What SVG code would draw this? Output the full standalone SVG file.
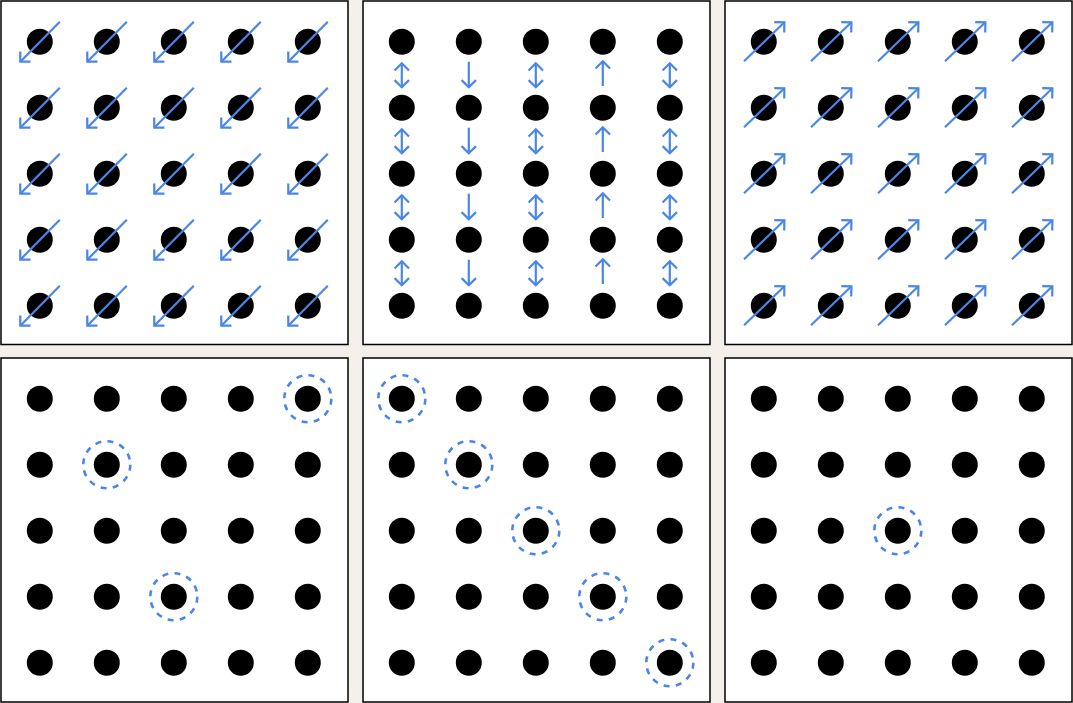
<svg xmlns="http://www.w3.org/2000/svg" width="1073" height="703" viewBox="0 0 1073 703">
<defs>
<marker id="ah" viewBox="-12 -12 24 24" markerWidth="24" markerHeight="24" refX="0" refY="0" markerUnits="userSpaceOnUse" orient="auto-start-reverse" overflow="visible">
<path d="M-7.2,-7.2 L0,0 L-7.2,7.2" fill="none" stroke="#4a86e8" stroke-width="2.2" stroke-linejoin="miter" stroke-linecap="butt"/>
</marker>
<g id="dots">
<circle cx="39.8" cy="41.7" r="13"/><circle cx="106.8" cy="41.7" r="13"/><circle cx="173.8" cy="41.7" r="13"/><circle cx="240.8" cy="41.7" r="13"/><circle cx="307.8" cy="41.7" r="13"/>
<circle cx="39.8" cy="107.7" r="13"/><circle cx="106.8" cy="107.7" r="13"/><circle cx="173.8" cy="107.7" r="13"/><circle cx="240.8" cy="107.7" r="13"/><circle cx="307.8" cy="107.7" r="13"/>
<circle cx="39.8" cy="173.7" r="13"/><circle cx="106.8" cy="173.7" r="13"/><circle cx="173.8" cy="173.7" r="13"/><circle cx="240.8" cy="173.7" r="13"/><circle cx="307.8" cy="173.7" r="13"/>
<circle cx="39.8" cy="239.7" r="13"/><circle cx="106.8" cy="239.7" r="13"/><circle cx="173.8" cy="239.7" r="13"/><circle cx="240.8" cy="239.7" r="13"/><circle cx="307.8" cy="239.7" r="13"/>
<circle cx="39.8" cy="305.7" r="13"/><circle cx="106.8" cy="305.7" r="13"/><circle cx="173.8" cy="305.7" r="13"/><circle cx="240.8" cy="305.7" r="13"/><circle cx="307.8" cy="305.7" r="13"/>
</g>
</defs>
<style>
.panel{fill:#ffffff;stroke:#000000;stroke-width:1.5}
.dot{fill:#000000}
.arr{stroke:#4a86e8;stroke-width:2.2;fill:none}
.end{marker-end:url(#ah)}
.both{marker-start:url(#ah);marker-end:url(#ah)}
.ring{fill:none;stroke:#4a86e8;stroke-width:2.6;stroke-dasharray:6 6.3}
</style>
<rect x="0" y="0" width="1073" height="703" fill="#f3f0eb"/>

<g id="panel-1" transform="translate(0,0)">
<rect class="panel" x="1" y="1" width="347" height="343.5"/>
<use href="#dots" class="dot"/>
</g>
<g id="panel-2" transform="translate(362,0)">
<rect class="panel" x="1" y="1" width="347" height="343.5"/>
<use href="#dots" class="dot"/>
</g>
<g id="panel-3" transform="translate(724,0)">
<rect class="panel" x="1" y="1" width="347" height="343.5"/>
<use href="#dots" class="dot"/>
</g>
<g id="panel-4" transform="translate(0,357)">
<rect class="panel" x="1" y="1" width="347" height="344"/>
<use href="#dots" class="dot"/>
<g class="ring">
<circle cx="307.8" cy="41.7" r="23.5"/>
<circle cx="106.8" cy="107.7" r="23.5"/>
<circle cx="173.8" cy="239.7" r="23.5"/>
</g>
</g>
<g id="panel-5" transform="translate(362,357)">
<rect class="panel" x="1" y="1" width="347" height="344"/>
<use href="#dots" class="dot"/>
<g class="ring">
<circle cx="39.8" cy="41.7" r="23.5"/>
<circle cx="106.8" cy="107.7" r="23.5"/>
<circle cx="173.8" cy="173.7" r="23.5"/>
<circle cx="240.8" cy="239.7" r="23.5"/>
<circle cx="307.8" cy="305.7" r="23.5"/>
</g>
</g>
<g id="panel-6" transform="translate(724,357)">
<rect class="panel" x="1" y="1" width="347" height="344"/>
<use href="#dots" class="dot"/>
<g class="ring">
<circle cx="173.8" cy="173.7" r="23.5"/>
</g>
</g>

<g id="connectors">
<g id="arrows-panel-1" class="arr end" transform="translate(0,0)">
<line x1="59.8" y1="21.7" x2="20.3" y2="61.7"/><line x1="126.8" y1="21.7" x2="87.3" y2="61.7"/><line x1="193.8" y1="21.7" x2="154.3" y2="61.7"/><line x1="260.8" y1="21.7" x2="221.3" y2="61.7"/><line x1="327.8" y1="21.7" x2="288.3" y2="61.7"/>
<line x1="59.8" y1="87.7" x2="20.3" y2="127.7"/><line x1="126.8" y1="87.7" x2="87.3" y2="127.7"/><line x1="193.8" y1="87.7" x2="154.3" y2="127.7"/><line x1="260.8" y1="87.7" x2="221.3" y2="127.7"/><line x1="327.8" y1="87.7" x2="288.3" y2="127.7"/>
<line x1="59.8" y1="153.7" x2="20.3" y2="193.7"/><line x1="126.8" y1="153.7" x2="87.3" y2="193.7"/><line x1="193.8" y1="153.7" x2="154.3" y2="193.7"/><line x1="260.8" y1="153.7" x2="221.3" y2="193.7"/><line x1="327.8" y1="153.7" x2="288.3" y2="193.7"/>
<line x1="59.8" y1="219.7" x2="20.3" y2="259.7"/><line x1="126.8" y1="219.7" x2="87.3" y2="259.7"/><line x1="193.8" y1="219.7" x2="154.3" y2="259.7"/><line x1="260.8" y1="219.7" x2="221.3" y2="259.7"/><line x1="327.8" y1="219.7" x2="288.3" y2="259.7"/>
<line x1="59.8" y1="285.7" x2="20.3" y2="325.7"/><line x1="126.8" y1="285.7" x2="87.3" y2="325.7"/><line x1="193.8" y1="285.7" x2="154.3" y2="325.7"/><line x1="260.8" y1="285.7" x2="221.3" y2="325.7"/><line x1="327.8" y1="285.7" x2="288.3" y2="325.7"/>
</g>
<g id="arrows-panel-2" class="arr" transform="translate(362,0)">
<g class="both">
<line x1="39.8" y1="63.3" x2="39.8" y2="87.3"/><line x1="39.8" y1="129.3" x2="39.8" y2="153.3"/><line x1="39.8" y1="195.3" x2="39.8" y2="219.3"/><line x1="39.8" y1="261.3" x2="39.8" y2="285.3"/>
<line x1="173.8" y1="63.3" x2="173.8" y2="87.3"/><line x1="173.8" y1="129.3" x2="173.8" y2="153.3"/><line x1="173.8" y1="195.3" x2="173.8" y2="219.3"/><line x1="173.8" y1="261.3" x2="173.8" y2="285.3"/>
<line x1="307.8" y1="63.3" x2="307.8" y2="87.3"/><line x1="307.8" y1="129.3" x2="307.8" y2="153.3"/><line x1="307.8" y1="195.3" x2="307.8" y2="219.3"/><line x1="307.8" y1="261.3" x2="307.8" y2="285.3"/>
</g>
<g class="end">
<line x1="106.8" y1="61.7" x2="106.8" y2="87.3"/><line x1="106.8" y1="127.7" x2="106.8" y2="153.3"/><line x1="106.8" y1="193.7" x2="106.8" y2="219.3"/><line x1="106.8" y1="259.7" x2="106.8" y2="285.3"/>
<line x1="240.8" y1="86" x2="240.8" y2="61.3"/><line x1="240.8" y1="152" x2="240.8" y2="127.3"/><line x1="240.8" y1="218" x2="240.8" y2="193.3"/><line x1="240.8" y1="284" x2="240.8" y2="259.3"/>
</g>
</g>
<g id="arrows-panel-3" class="arr end" transform="translate(724,0)">
<line x1="20" y1="61.3" x2="60.4" y2="22.3"/><line x1="87" y1="61.3" x2="127.4" y2="22.3"/><line x1="154" y1="61.3" x2="194.4" y2="22.3"/><line x1="221" y1="61.3" x2="261.4" y2="22.3"/><line x1="288" y1="61.3" x2="328.4" y2="22.3"/>
<line x1="20" y1="127.3" x2="60.4" y2="88.3"/><line x1="87" y1="127.3" x2="127.4" y2="88.3"/><line x1="154" y1="127.3" x2="194.4" y2="88.3"/><line x1="221" y1="127.3" x2="261.4" y2="88.3"/><line x1="288" y1="127.3" x2="328.4" y2="88.3"/>
<line x1="20" y1="193.3" x2="60.4" y2="154.3"/><line x1="87" y1="193.3" x2="127.4" y2="154.3"/><line x1="154" y1="193.3" x2="194.4" y2="154.3"/><line x1="221" y1="193.3" x2="261.4" y2="154.3"/><line x1="288" y1="193.3" x2="328.4" y2="154.3"/>
<line x1="20" y1="259.3" x2="60.4" y2="220.3"/><line x1="87" y1="259.3" x2="127.4" y2="220.3"/><line x1="154" y1="259.3" x2="194.4" y2="220.3"/><line x1="221" y1="259.3" x2="261.4" y2="220.3"/><line x1="288" y1="259.3" x2="328.4" y2="220.3"/>
<line x1="20" y1="325.3" x2="60.4" y2="286.3"/><line x1="87" y1="325.3" x2="127.4" y2="286.3"/><line x1="154" y1="325.3" x2="194.4" y2="286.3"/><line x1="221" y1="325.3" x2="261.4" y2="286.3"/><line x1="288" y1="325.3" x2="328.4" y2="286.3"/>
</g>
</g>
</svg>
